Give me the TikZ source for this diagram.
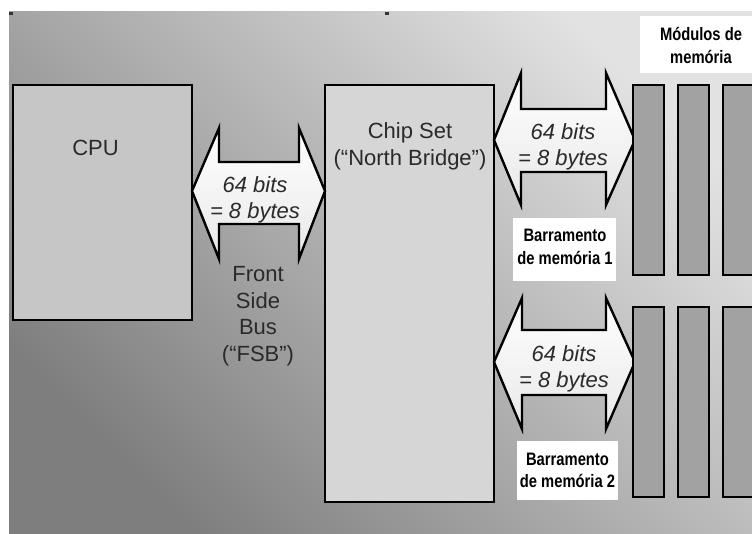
\documentclass[tikz,border=0pt]{standalone}
\usepackage{fontspec}
\setmainfont{Liberation Sans}
\newfontfamily\narrowfont{Liberation Sans}[FakeStretch=0.82]
\definecolor{bgtop}{HTML}{E2E2E2}
\definecolor{bgmid}{HTML}{BEBEBE}
\definecolor{bgbot}{HTML}{7E7E7E}
\definecolor{cpufill}{HTML}{C6C6C6}
\definecolor{chipfill}{HTML}{D6D6D6}
\definecolor{barfill}{HTML}{A2A2A2}
\definecolor{txt}{HTML}{2A2A2A}
\begin{document}
\begin{tikzpicture}[x=1pt,y=-1pt,
  box/.style={draw=black,line width=2.4pt},
  busarrow/.style={draw=black,line width=2.4pt,line join=miter,top color=white,bottom color=gray!18},
  membar/.style={draw=black,line width=2.4pt,fill=barfill},
  lbl/.style={font=\fontsize{22}{26.5}\selectfont,align=center,inner sep=0pt,text=txt},
  ital/.style={font=\fontsize{22}{26}\selectfont\itshape,align=center,inner sep=0pt,text=txt},
  wbox/.style={fill=white},
  wlabel/.style={font=\narrowfont\bfseries\fontsize{18}{22.5}\selectfont,align=center,inner sep=0pt,text=black}]
\useasboundingbox (0,0) rectangle (752,534);
\fill[white] (0,0) rectangle (752,534);
\shade[top color=bgtop,middle color=bgmid,bottom color=bgbot,shading angle=-45] (9,12) rectangle (752,534);
\fill[black!80] (9,12) rectangle (13,15);
\fill[black!80] (385,12) rectangle (389,15);
% boxes
\node[box,fill=cpufill,minimum width=179pt,minimum height=235pt,inner sep=0pt] (cpu) at (102.5,202.5) {};
\node[box,fill=chipfill,minimum width=169pt,minimum height=417pt,inner sep=0pt] (chip) at (409.5,293.5) {};
\node[lbl] (cputxt) at (95.5,148) {CPU};
\node[lbl] (chiptxt) at (410,146.5) {Chip Set\\(“North Bridge”)};
% FSB arrow
\draw[busarrow] (192,191) -- (219,128) -- (219,162) -- (299,162) -- (299,128) -- (325,191)
  -- (299,259) -- (299,224) -- (219,224) -- (219,259) -- cycle;
\node[ital] (fsbw) at (255,200) {64 bits\\= 8 bytes};
\node[lbl] (fsb) at (258,316) {Front\\Side\\Bus\\(“FSB”)};
% memory bus 1
\draw[busarrow] (494,140) -- (521,73) -- (521,109) -- (606,109) -- (606,73) -- (635,140)
  -- (606,205) -- (606,172) -- (521,172) -- (521,205) -- cycle;
\node[ital] (m1w) at (563,147) {64 bits\\= 8 bytes};
% memory bus 2
\draw[busarrow] (494,362) -- (522,298) -- (522,330) -- (606,330) -- (606,298) -- (635,362)
  -- (606,429) -- (606,395) -- (522,395) -- (522,429) -- cycle;
\node[ital] (m2w) at (564,369) {64 bits\\= 8 bytes};
% memory modules
\foreach \x/\w in {633/31,678/31,723/40} {
  \draw[membar] (\x,85) rectangle ++(\w,190);
  \draw[membar] (\x,307) rectangle ++(\w,190);
}
% labels
\fill[wbox] (640,16) rectangle (752,73);
\node[wlabel] (mods) at (701,45.5) {Módulos de\\memória};
\fill[wbox] (513,218) rectangle (616,281);
\node[wlabel] (bar1) at (565,247) {Barramento\\de memória 1};
\fill[wbox] (517,441) rectangle (618,500);
\node[wlabel] (bar2) at (567.5,470.5) {Barramento\\de memória 2};
\end{tikzpicture}
\end{document}
